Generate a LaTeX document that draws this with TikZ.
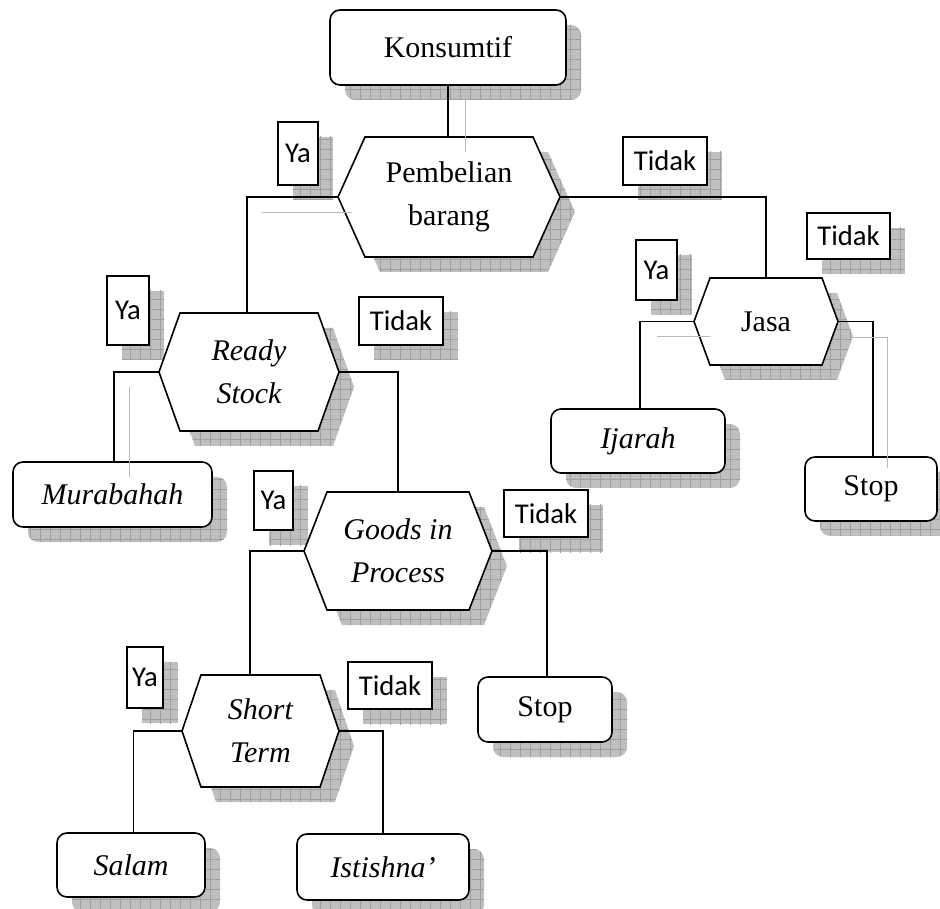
\documentclass[tikz,border=0pt]{standalone}
\usepackage{fontspec}
\setmainfont{Liberation Serif}
\newfontfamily\lblfont{Carlito}
\usetikzlibrary{patterns.meta,calc}
\pgfdeclarelayer{shadowlayer}
\pgfdeclarelayer{shapelayer}
\pgfdeclarelayer{ghostlayer}
\pgfsetlayers{shadowlayer,shapelayer,main,ghostlayer}
\tikzset{
  ln/.style={line width=1.2pt},
  ghost/.style={line width=0.6pt, draw=gray!55},
  shadfill/.style={fill=gray!50},
  shadgrid/.style={pattern={Hatch[distance=7.5pt,line width=0.35pt]}, pattern color=gray!75},
  rbox/.style={draw, ln, fill=white, rounded corners=7.5pt, inner sep=0pt, font=\fontsize{22.5}{30}\selectfont},
  lbox/.style={draw, ln, fill=white, inner sep=0pt, font=\lblfont\fontsize{21.5}{24}\selectfont},
  hextext/.style={inner sep=0pt, align=center, font=\fontsize{22.5}{32}\selectfont},
}
% rounded box with shadow: name, x1, y1, x2, y2, text
\newcommand\RBox[6]{%
  \begin{pgfonlayer}{shadowlayer}
    \path[shadfill,rounded corners=7.5pt] (#2+15,#3+15) rectangle (#4+15,#5+15);
    \path[shadgrid,rounded corners=7.5pt] (#2+15,#3+15) rectangle (#4+15,#5+15);
  \end{pgfonlayer}
  \node[rbox,minimum width={(#4-#2)*0.75pt},minimum height={(#5-#3)*0.75pt}] (#1) at ({(#2+#4)/2},{(#3+#5)/2}) {#6};}
% label box with shadow
\newcommand\LBox[6]{%
  \begin{pgfonlayer}{shadowlayer}
    \path[shadfill] (#2+15,#3+15) rectangle (#4+15,#5+15);
    \path[shadgrid] (#2+15,#3+15) rectangle (#4+15,#5+15);
  \end{pgfonlayer}
  \node[lbox,minimum width={(#4-#2)*0.75pt},minimum height={(#5-#3)*0.75pt}] (#1) at ({(#2+#4)/2},{(#3+#5)/2}) {#6};}
% hexagon: name, cx, cy, half top width, half height, indent, text
\newcommand\Hex[7]{%
  \begin{pgfonlayer}{shadowlayer}
    \path[shadfill] (#2-#4-#6+15,#3+15) -- (#2-#4+15,#3-#5+15) -- (#2+#4+15,#3-#5+15) -- (#2+#4+#6+15,#3+15) -- (#2+#4+15,#3+#5+15) -- (#2-#4+15,#3+#5+15) -- cycle;
    \path[shadgrid] (#2-#4-#6+15,#3+15) -- (#2-#4+15,#3-#5+15) -- (#2+#4+15,#3-#5+15) -- (#2+#4+#6+15,#3+15) -- (#2+#4+15,#3+#5+15) -- (#2-#4+15,#3+#5+15) -- cycle;
  \end{pgfonlayer}
  \begin{pgfonlayer}{shapelayer}\draw[ln,fill=white,line join=miter] (#2-#4-#6,#3) -- (#2-#4,#3-#5) -- (#2+#4,#3-#5) -- (#2+#4+#6,#3) -- (#2+#4,#3+#5) -- (#2-#4,#3+#5) -- cycle;\end{pgfonlayer}
  \node[hextext,minimum width={2*#4*0.75pt},minimum height={2*#5*0.75pt}] (#1) at (#2,#3) {#7};
  \coordinate (#1-w) at (#2-#4-#6,#3);
  \coordinate (#1-e) at (#2+#4+#6,#3);}
\begin{document}
\begin{tikzpicture}[x=0.75pt,y=-0.75pt]
\useasboundingbox (0,0) rectangle (940,909);

% boxes
\RBox{ko}{330}{10}{566}{85}{Konsumtif}
\RBox{mu}{13}{462}{212}{527}{\itshape Murabahah}
\RBox{ij}{551}{409}{725}{473}{\itshape Ijarah}
\RBox{sr}{805}{457}{937}{521}{Stop}
\RBox{sm}{478}{677}{612}{742}{Stop}
\RBox{sa}{57}{833}{205}{897}{\itshape Salam}
\RBox{is}{297}{834}{469}{900}{\itshape Istishna’}

% decisions
\Hex{pb}{449}{197}{84}{60}{27}{Pembelian\\barang}
\Hex{rs}{249}{372}{69}{59}{21}{\itshape Ready\\\itshape Stock}
\Hex{js}{766}{321.5}{56}{43.5}{16}{Jasa}
\Hex{gp}{398}{551}{71}{59}{23}{\itshape Goods in\\\itshape Process}
\Hex{st}{260.5}{731}{59.5}{56}{19}{\itshape Short\\\itshape Term}

% labels
\LBox{y1}{278}{122}{318}{185}{Ya}
\LBox{t1}{623}{137}{707}{185}{Tidak}
\LBox{y2}{107}{276}{149}{345}{Ya}
\LBox{t2}{359}{297}{443}{345}{Tidak}
\LBox{y3}{636}{240}{677}{300}{Ya}
\LBox{t3}{807}{213}{890}{259}{Tidak}
\LBox{y4}{254}{471}{293}{530}{Ya}
\LBox{t4}{504}{490}{588}{537}{Tidak}
\LBox{y5}{127}{647}{163}{708}{Ya}
\LBox{t5}{348}{662}{432}{709}{Tidak}

% connectors
\draw[ln] (ko.south) -- (ko.south |- pb.north);
\draw[ln] (pb-w) -| ([xshift=-1.5pt]rs.north);
\draw[ln] (pb-e) -| (js.north);
\draw[ln] (rs-w) -| ([xshift=1pt]mu.north);
\draw[ln] (rs-e) -| (gp.north);
\draw[ln] (js-w) -| ([xshift=1.5pt]ij.north);
\draw[ln] (js-e) -| ([xshift=1.5pt]sr.north);
\draw[ln] (gp-w) -| ([xshift=-7.9pt]st.north);
\draw[ln] (gp-e) -| ([xshift=1.5pt]sm.north);
\draw[ln] (st-w) -| ([xshift=2pt]sa.north);
\draw[ln] (st-e) -| (is.north);

% faint ghost lines
\begin{pgfonlayer}{ghostlayer}
\draw[ghost] (465,100) -- (465,152);
\draw[ghost] (262,212) -- (352,212);
\draw[ghost] (129,387) -- (129,477);
\draw[ghost] (657,336) -- (710,336);
\draw[ghost] (853,337) -- (887,337) -- (887,468);
\end{pgfonlayer}
\end{tikzpicture}
\end{document}
